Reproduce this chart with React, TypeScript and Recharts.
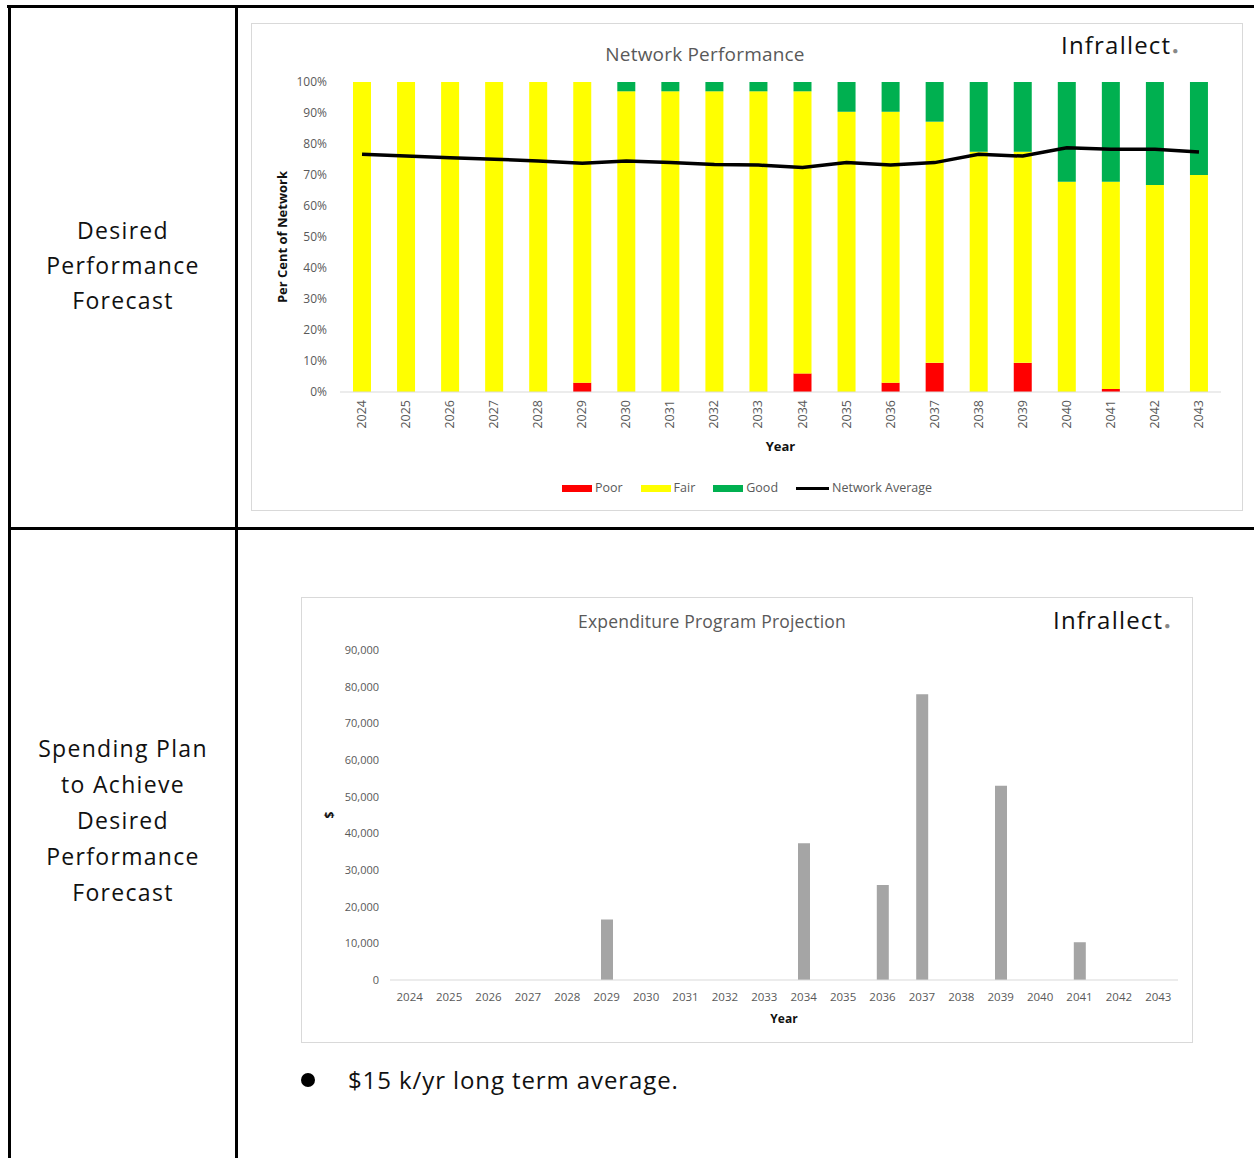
import { ComposedChart, BarChart, Bar, Line, XAxis, YAxis, Label } from 'recharts';

const years = ['2024', '2025', '2026', '2027', '2028', '2029', '2030', '2031', '2032', '2033',
  '2034', '2035', '2036', '2037', '2038', '2039', '2040', '2041', '2042', '2043'];

// % of network in each condition band
const poor = [0, 0, 0, 0, 0, 3, 0, 0, 0, 0, 6, 0, 3, 9.4, 0, 9.4, 0, 1, 0, 0];
const fair = [100, 100, 100, 100, 100, 97, 97, 97, 97, 97, 91, 90.4, 87.4, 77.8, 77.5, 68.1, 67.8, 66.8, 66.8, 70];
const good = [0, 0, 0, 0, 0, 0, 3, 3, 3, 3, 3, 9.6, 9.6, 12.8, 22.5, 22.5, 32.2, 32.2, 33.2, 30];
const networkAvg = [76.7, 76.1, 75.6, 75.1, 74.5, 73.8, 74.5, 74, 73.4, 73.2, 72.4, 74, 73.2, 74, 76.7, 76.1, 78.8, 78.3, 78.3, 77.4];

// $ spent per year
const spend = [0, 0, 0, 0, 0, 16500, 0, 0, 0, 0, 37300, 0, 25900, 77900, 0, 53000, 0, 10300, 0, 0];

const pctTicks = [0, 10, 20, 30, 40, 50, 60, 70, 80, 90, 100];
const rightTicks = [-2, -1, 0, 1];
const spendTicks = [0, 10000, 20000, 30000, 40000, 50000, 60000, 70000, 80000, 90000];

const perfData = years.map((year, i) => ({ year, poor: poor[i], fair: fair[i], good: good[i], avg: networkAvg[i] }));
const spendData = years.map((year, i) => ({ year, spend: spend[i] }));

const GREY = '#595959';
const AXIS = '#d9d9d9';

const RotatedTick = ({ x, y, payload }) => (
  <text x={x} y={y} dy={4} textAnchor="end" transform={`rotate(-90 ${x} ${y})`} fill={GREY} fontSize={12.5}>
    {payload.value}
  </text>
);

const Logo = ({ left, top }) => (
  <div style={{ position: 'absolute', left, top, fontSize: 24, lineHeight: '30px', letterSpacing: 1.2, color: '#111' }}>
    Infrallect<span style={{ fontSize: 10, color: '#888', marginLeft: 1 }}>●</span>
  </div>
);

const legendItems = [
  { name: 'Poor', color: '#FF0000', line: false },
  { name: 'Fair', color: '#FFFF00', line: false },
  { name: 'Good', color: '#00B050', line: false },
  { name: 'Network Average', color: '#000000', line: true },
];

const line = (style) => <div style={{ position: 'absolute', background: '#000', ...style }} />;

export default function App() {
  return (
    <div style={{ position: 'absolute', left: 0, top: 0, width: 1254, height: 1158, background: '#fff',
      overflow: 'hidden', fontFamily: '"Open Sans", sans-serif', color: '#111' }}>
      {/* table borders */}
      {line({ left: 7, top: 5, width: 1247, height: 3 })}
      {line({ left: 8, top: 5, width: 3, height: 1153 })}
      {line({ left: 235, top: 5, width: 3, height: 1153 })}
      {line({ left: 8, top: 527, width: 1246, height: 3 })}

      {/* row headings */}
      <div style={{ position: 'absolute', left: 11, top: 213, width: 224, textAlign: 'center', fontSize: 23,
        lineHeight: '35px', letterSpacing: 1.3 }}>
        Desired<br />Performance<br />Forecast
      </div>
      <div style={{ position: 'absolute', left: 11, top: 730, width: 224, textAlign: 'center', fontSize: 23,
        lineHeight: '36px', letterSpacing: 1.3 }}>
        Spending Plan<br />to Achieve<br />Desired<br />Performance<br />Forecast
      </div>

      {/* Network Performance chart */}
      <div style={{ position: 'absolute', left: 251, top: 23, width: 990, height: 486, border: `1px solid ${AXIS}` }}>
        <ComposedChart width={990} height={486} data={perfData} margin={{ top: 58, right: 4, left: 20, bottom: 59 }}>
          <XAxis dataKey="year" height={59} tick={RotatedTick} tickSize={0} tickMargin={8} tickLine={false}
            axisLine={{ stroke: AXIS }} interval={0}>
            <Label value="Year" position="insideBottom" offset={0} style={{ fontWeight: 700, fontSize: 13, fill: '#111' }} />
          </XAxis>
          <YAxis yAxisId="left" width={68} domain={[0, 100]} ticks={pctTicks} tickFormatter={(v) => `${v}%`}
            tick={{ fill: GREY, fontSize: 12 }} tickSize={0} tickMargin={13} axisLine={false} tickLine={false}>
            <Label value="Per Cent of Network" angle={-90} position="insideLeft" offset={10}
              style={{ textAnchor: 'middle', fontWeight: 700, fontSize: 13, fill: '#111' }} />
          </YAxis>
          <YAxis yAxisId="right" orientation="right" width={17} domain={[-2, 1]} ticks={rightTicks}
            tick={{ fill: '#999', fontSize: 7 }} tickSize={0} tickMargin={8} axisLine={false} tickLine={false} />
          <Bar yAxisId="left" dataKey="poor" stackId="a" fill="#FF0000" barSize={18} isAnimationActive={false} />
          <Bar yAxisId="left" dataKey="fair" stackId="a" fill="#FFFF00" barSize={18} isAnimationActive={false} />
          <Bar yAxisId="left" dataKey="good" stackId="a" fill="#00B050" barSize={18} isAnimationActive={false} />
          <Line yAxisId="left" dataKey="avg" type="linear" stroke="#000" strokeWidth={3.5} dot={false} isAnimationActive={false} />
        </ComposedChart>
      </div>
      <div style={{ position: 'absolute', left: 505, top: 41, width: 400, textAlign: 'center', fontSize: 19,
        lineHeight: '26px', color: GREY, letterSpacing: 0.2 }}>
        Network Performance
      </div>
      <Logo left={1061} top={30} />
      <div style={{ position: 'absolute', left: 252, top: 479, width: 990, display: 'flex', justifyContent: 'center',
        fontSize: 12.5, lineHeight: '18px', color: GREY }}>
        {legendItems.map((it, i) => (
          <div key={it.name} style={{ display: 'flex', alignItems: 'center', marginRight: i < legendItems.length - 1 ? 18 : 0 }}>
            <div style={{ width: it.line ? 33 : 30, height: it.line ? 3 : 7, background: it.color, marginRight: 3 }} />
            {it.name}
          </div>
        ))}
      </div>

      {/* Expenditure chart */}
      <div style={{ position: 'absolute', left: 301, top: 597, width: 890, height: 444, border: `1px solid ${AXIS}` }}>
        <BarChart width={890} height={444} data={spendData} margin={{ top: 52, right: 14, left: 14, bottom: 19 }}>
          <XAxis dataKey="year" height={43} tick={{ fill: GREY, fontSize: 11.5 }} tickSize={0} tickMargin={13}
            tickLine={false} axisLine={{ stroke: AXIS }} interval={0}>
            <Label value="Year" position="insideBottom" offset={0} style={{ fontWeight: 700, fontSize: 12, fill: '#111' }} />
          </XAxis>
          <YAxis width={74} domain={[0, 90000]} ticks={spendTicks} tickFormatter={(v) => v.toLocaleString('en-US')}
            tick={{ fill: GREY, fontSize: 11 }} tickSize={0} tickMargin={11} axisLine={false} tickLine={false}>
            <Label value="$" angle={-90} position="insideLeft" offset={14}
              style={{ textAnchor: 'middle', fontWeight: 700, fontSize: 12, fill: '#111' }} />
          </YAxis>
          <Bar dataKey="spend" fill="#A5A5A5" barSize={12} isAnimationActive={false} />
        </BarChart>
      </div>
      <div style={{ position: 'absolute', left: 512, top: 609, width: 400, textAlign: 'center', fontSize: 17.5,
        lineHeight: '24px', color: GREY, letterSpacing: 0.2 }}>
        Expenditure Program Projection
      </div>
      <Logo left={1053} top={605} />

      {/* note */}
      <div style={{ position: 'absolute', left: 301, top: 1063, fontSize: 24, lineHeight: '34px', letterSpacing: 0.9,
        display: 'flex', alignItems: 'center' }}>
        <span style={{ display: 'inline-block', width: 14, height: 14, borderRadius: 7, background: '#000', marginRight: 33 }} />
        $15 k/yr long term average.
      </div>
    </div>
  );
}
